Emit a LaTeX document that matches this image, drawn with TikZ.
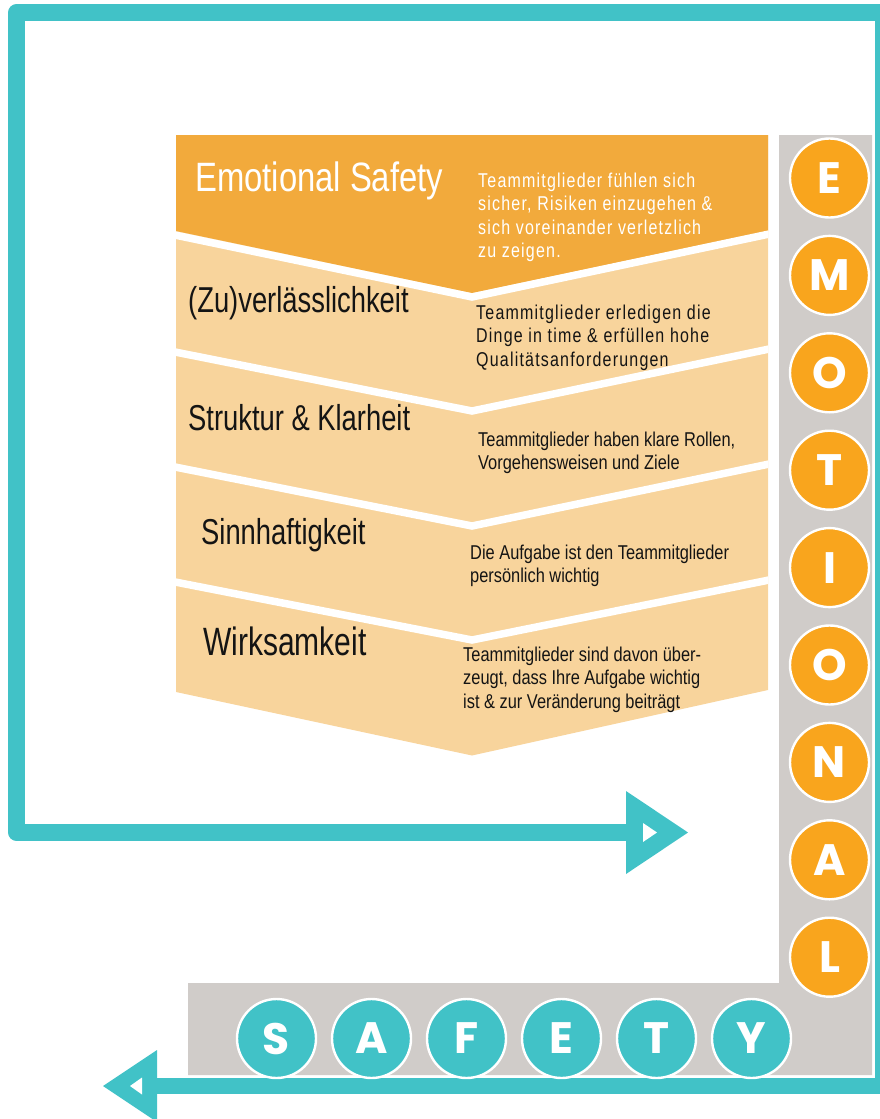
\documentclass[tikz,border=0pt]{standalone}
\usepackage{fontspec}
\setmainfont{Liberation Sans}
\newfontfamily\titlefont{Liberation Sans}[FakeStretch=0.76]
\newfontfamily\headfont{Liberation Sans}[FakeStretch=0.80]
\newfontfamily\descfont{Liberation Sans}[FakeStretch=0.82]
\newfontfamily\spacedfont{Liberation Sans}[FakeStretch=0.80,LetterSpace=6]
\newfontfamily\letterfont{Poppins}

\definecolor{frameteal}{RGB}{65,194,199}
\definecolor{panelgray}{RGB}{208,204,201}
\definecolor{circorange}{RGB}{249,165,29}
\definecolor{banddark}{RGB}{242,170,60}
\definecolor{bandlight}{RGB}{248,212,156}
\definecolor{ink}{RGB}{20,20,20}

\begin{document}
\begin{tikzpicture}[x=1pt,y=-1pt,
  frame/.style={draw=frameteal, line width=16.5pt, line join=round},
  title/.style={anchor=base west, inner sep=0pt, text=ink,
    font=\titlefont\fontsize{36}{42}\selectfont},
  desc/.style={anchor=base west, inner sep=0pt, text=ink, align=left,
    font=\descfont\fontsize{20}{23.5}\selectfont},
  spaced/.style={desc, font=\spacedfont\fontsize{20}{23.5}\selectfont},
  ecirc/.style={circle, minimum size=79pt, inner sep=0pt, fill=circorange,
    draw=white, line width=2.4pt, text=white,
    font=\letterfont\bfseries\fontsize{44}{44}\selectfont},
  scirc/.style={ecirc, fill=frameteal},
  sep/.style={draw=white, line width=7.5pt}
]
\useasboundingbox (0,0) rectangle (879,1119);

% teal frame with its two arrow ends
\coordinate (rA) at (626,832.5);
\coordinate (bl) at (16.5,832.5);
\coordinate (tl) at (16.5,12.5);
\coordinate (tr) at (883,12.5);
\coordinate (br) at (883,1086);
\coordinate (lA) at (157,1086);
\draw[frame] (rA) -- (bl) -- (tl) -- (tr) -- (br) -- (lA);
\fill[frameteal] (626,791) -- (688,832.5) -- (626,874) -- cycle;
\fill[white] (643,823) -- (657,832.5) -- (643,842) -- cycle;
\fill[frameteal] (157,1050) -- (103,1086) -- (157,1122) -- cycle;
\fill[white] (142,1077.5) -- (130,1086) -- (142,1094.5) -- cycle;

% grey L-shaped strip
\fill[panelgray] (779,135) -- (872,135) -- (872,1075) -- (188,1075)
  -- (188,983) -- (779,983) -- cycle;

% chevron stack
\fill[bandlight] (176,135) -- (768,135) -- (768,690) -- (472,755.5)
  -- (176,692) -- cycle;
\fill[banddark] (176,135) -- (768,135) -- (768,231) -- (472,293)
  -- (176,231) -- cycle;
\begin{scope}
  \clip (176,135) -- (768,135) -- (768,690) -- (472,755.5) -- (176,692) -- cycle;
  \draw[sep] (170,234) -- (472,297) -- (774,233);
  \draw[sep] (170,351) -- (472,411) -- (774,348);
  \draw[sep] (170,466) -- (472,526) -- (774,463);
  \draw[sep] (170,581) -- (472,640) -- (774,579);
\end{scope}

% band titles
\node[title, text=white, font=\headfont\fontsize{41}{46}\selectfont]
  (t1) at (195,191) {Emotional Safety};
\node[title] (t2) at (188,312) {(Zu)verlässlichkeit};
\node[title] (t3) at (188,430) {Struktur \& Klarheit};
\node[title] (t4) at (201,544) {Sinnhaftigkeit};
\node[title, font=\titlefont\fontsize{39.5}{44}\selectfont] (t5) at (203,655) {Wirksamkeit};

% band descriptions
\node[spaced, text=white] (d1) at (478,187) {\begin{tabular}[t]{@{}l@{}}
  Teammitglieder fühlen sich\\ sicher, Risiken einzugehen \&\\
  sich voreinander verletzlich\\ zu zeigen.\end{tabular}};
\node[spaced] (d2) at (476,319) {\begin{tabular}[t]{@{}l@{}}
  Teammitglieder erledigen die\\ Dinge in time \& erfüllen hohe\\
  Qualitätsanforderungen\end{tabular}};
\node[desc] (d3) at (478,446) {\begin{tabular}[t]{@{}l@{}}
  Teammitglieder haben klare Rollen,\\ Vorgehensweisen und Ziele\end{tabular}};
\node[desc] (d4) at (470,559) {\begin{tabular}[t]{@{}l@{}}
  Die Aufgabe ist den Teammitglieder\\ persönlich wichtig\end{tabular}};
\node[desc] (d5) at (463,661) {\begin{tabular}[t]{@{}l@{}}
  Teammitglieder sind davon über-\\ zeugt, dass Ihre Aufgabe wichtig\\
  ist \& zur Veränderung beiträgt\end{tabular}};

% letter discs
\node[ecirc] (e1) at (829.5,178.0) {E};
\node[ecirc] (e2) at (829.5,275.4) {M};
\node[ecirc] (e3) at (829.5,372.8) {O};
\node[ecirc] (e4) at (829.5,470.2) {T};
\node[ecirc] (e5) at (829.5,567.6) {I};
\node[ecirc] (e6) at (829.5,665.0) {O};
\node[ecirc] (e7) at (829.5,762.4) {N};
\node[ecirc] (e8) at (829.5,859.8) {A};
\node[ecirc] (e9) at (829.5,957.2) {L};

\node[scirc] (s1) at (276.5,1038.5) {S};
\node[scirc] (s2) at (371.5,1038.5) {A};
\node[scirc] (s3) at (466.5,1038.5) {F};
\node[scirc] (s4) at (561.5,1038.5) {E};
\node[scirc] (s5) at (656.5,1038.5) {T};
\node[scirc] (s6) at (751.5,1038.5) {Y};
\end{tikzpicture}
\end{document}
